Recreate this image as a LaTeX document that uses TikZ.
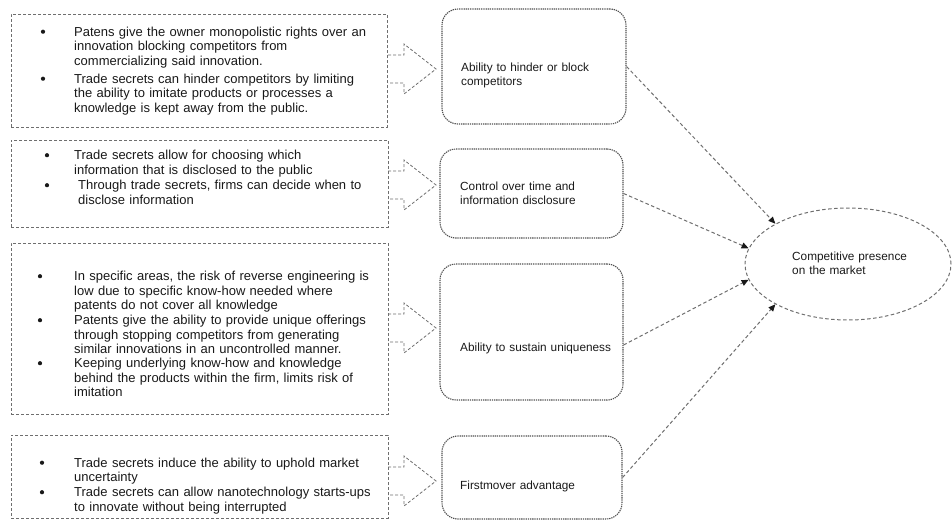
\documentclass[tikz,border=0pt]{standalone}
\usepackage{fontspec}
\setmainfont{Liberation Sans}
\usetikzlibrary{arrows.meta,shapes.geometric,calc}
\definecolor{linegray}{RGB}{110,110,110}
\definecolor{boxgray}{RGB}{80,80,80}
\definecolor{ink}{RGB}{25,25,25}

\begin{document}
\begin{tikzpicture}[x=1pt,y=-1pt,
  evidence/.style={draw=linegray, line width=0.8pt, dash pattern=on 3pt off 2pt, inner sep=0pt},
  factor/.style={draw=boxgray, line width=1.1pt, dash pattern=on 1.3pt off 0.9pt, rounded corners=16pt, inner sep=0pt},
  outcome/.style={draw=linegray, ellipse, line width=1pt, dash pattern=on 3.5pt off 2.5pt, inner sep=0pt},
  link/.style={draw=linegray, line width=1pt, dash pattern=on 3.5pt off 2.5pt, -{Triangle[length=7pt,width=6pt,color=ink]}},
  blockarrow/.style={draw=linegray, line width=0.8pt, dash pattern=on 3pt off 2pt},
  itemtext/.style={anchor=base west, align=left, inner sep=0pt, text=ink, text width=312pt, font=\fontsize{13}{14.7}\selectfont},
  dot/.style={circle, fill=ink, inner sep=0pt, minimum size=4.2pt},
  boxtext/.style={anchor=base west, align=left, inner sep=0pt, text=ink, text width=160pt, font=\fontsize{11.8}{14}\selectfont}]
\useasboundingbox (0,0) rectangle (952,520);

% evidence boxes on the left
\node[evidence, minimum width=376pt, minimum height=113pt] (L1) at (199,70.5) {};
\node[evidence, minimum width=377pt, minimum height=87pt] (L2) at (199.5,183.5) {};
\node[evidence, minimum width=377pt, minimum height=171pt] (L3) at (199.5,328.5) {};
\node[evidence, minimum width=377pt, minimum height=83pt] (L4) at (199.5,476.5) {};

% bullet points
\node[dot] (b11) at (43,31.7) {};
\node[itemtext] (t11) at (74,36) {Patens give the owner monopolistic rights over an\\innovation blocking competitors from\\commercializing said innovation.};
\node[dot] (b12) at (43,78.7) {};
\node[itemtext] (t12) at (74,83) {Trade secrets can hinder competitors by limiting\\the ability to imitate products or processes a\\knowledge is kept away from the public.};

\node[dot] (b21) at (47,155.2) {};
\node[itemtext] (t21) at (74,159.5) {Trade secrets allow for choosing which\\information that is disclosed to the public};
\node[dot] (b22) at (47,185.2) {};
\node[itemtext] (t22) at (78,189.5) {Through trade secrets, firms can decide when to\\disclose information};

\node[dot] (b31) at (40,276.2) {};
\node[itemtext] (t31) at (74,280.5) {In specific areas, the risk of reverse engineering is\\low due to specific know-how needed where\\patents do not cover all knowledge};
\node[dot] (b32) at (40,320.2) {};
\node[itemtext] (t32) at (74,324.5) {Patents give the ability to provide unique offerings\\through stopping competitors from generating\\similar innovations in an uncontrolled manner.};
\node[dot] (b33) at (40,363.2) {};
\node[itemtext] (t33) at (74,367.5) {Keeping underlying know-how and knowledge\\behind the products within the firm, limits risk of\\imitation};

\node[dot] (b41) at (42,462.7) {};
\node[itemtext] (t41) at (74,467) {Trade secrets induce the ability to uphold market\\uncertainty};
\node[dot] (b42) at (42,492.2) {};
\node[itemtext] (t42) at (74,496.5) {Trade secrets can allow nanotechnology starts-ups\\to innovate without being interrupted};

% block arrows from evidence to factors
\foreach \yc in {69,185,328,481}{
  \draw[blockarrow] (388,{\yc-14}) -- (404,{\yc-14}) -- (404,{\yc-25}) -- (436,\yc)
    -- (404,{\yc+25}) -- (404,{\yc+14}) -- (388,{\yc+14});
}

% factor boxes
\node[factor, minimum width=184pt, minimum height=115pt] (R1) at (534,66.5) {};
\node[factor, minimum width=183pt, minimum height=89pt] (R2) at (531.5,193.5) {};
\node[factor, minimum width=183pt, minimum height=136pt] (R3) at (531.5,332) {};
\node[factor, minimum width=180pt, minimum height=83pt] (R4) at (532,477.5) {};

\node[boxtext] (r1t) at (461,71) {Ability to hinder or block\\competitors};
\node[boxtext] (r2t) at (460,190) {Control over time and\\information disclosure};
\node[boxtext] (r3t) at (460,351) {Ability to sustain uniqueness};
\node[boxtext] (r4t) at (460,489) {Firstmover advantage};

% outcome
\node[outcome, minimum width=206pt, minimum height=112pt] (E) at (848,264) {};
\node[boxtext] (et) at (792,260) {Competitive presence\\on the market};

% links into the outcome
\draw[link] (R1.east) -- (E.151);
\draw[link] (R2.east) -- (E.171);
\draw[link] ($(R3.east)+(0,13)$) -- (E.189);
\draw[link] (R4.east) -- (E.209);
\end{tikzpicture}
\end{document}
